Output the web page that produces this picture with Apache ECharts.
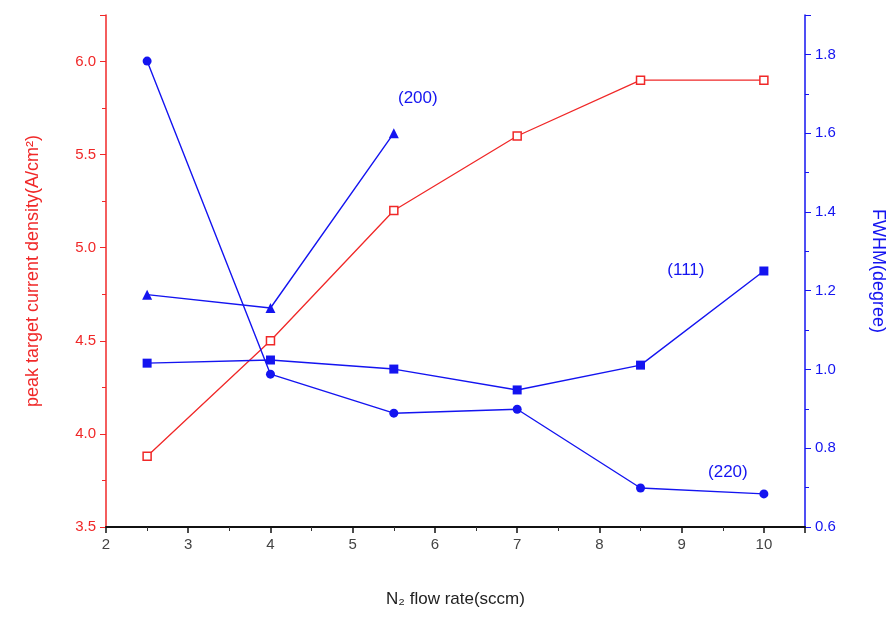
<!DOCTYPE html>
<html>
<head>
<meta charset="utf-8">
<script src="https://cdn.jsdelivr.net/npm/echarts@6/dist/echarts.min.js"></script>
<style>
  html, body { margin: 0; padding: 0; background: #fff; }
  #chart { width: 895px; height: 618px; }
</style>
</head>
<body>
<div id="chart"></div>
<script>
// N2 flow rate (sccm)
const flowRate = [2.5, 4, 5.5, 7, 8.5, 10];
// Peak target current density (A/cm2), left axis
const currentDensity = [3.88, 4.50, 5.20, 5.60, 5.90, 5.90];
// FWHM (degree) of the (111) peak, right axis
const fwhm111 = [1.016, 1.024, 1.001, 0.948, 1.011, 1.25];
// FWHM (degree) of the (200) peak, right axis
const fwhm200Rate = [2.5, 4, 5.5];
const fwhm200 = [1.19, 1.156, 1.60];
// FWHM (degree) of the (220) peak, right axis
const fwhm220 = [1.783, 0.988, 0.889, 0.899, 0.699, 0.684];

const RED = '#f02828';
const BLUE = '#1414f0';
const FONT = 'Liberation Sans, Arial, sans-serif';

function pairs(xs, ys) { return xs.map((x, i) => [x, ys[i]]); }

function labelled(points, idx, text, offset) {
  return points.map((p, i) => i === idx ? {
    value: p,
    label: {
      show: true, formatter: text, position: 'inside', offset: offset,
      color: BLUE, fontSize: 17, fontFamily: FONT
    }
  } : p);
}

const chart = echarts.init(document.getElementById('chart'), null, { renderer: 'canvas' });

chart.setOption({
  animation: false,
  backgroundColor: '#fff',
  grid: { left: 106, right: 90, top: 15, bottom: 91 },
  xAxis: {
    type: 'value', min: 2, max: 10.5, interval: 1,
    name: 'N₂ flow rate(sccm)', nameLocation: 'middle', nameGap: 64,
    nameTextStyle: { color: '#222', fontSize: 17, fontFamily: FONT },
    axisLine: { lineStyle: { color: '#111', width: 2 } },
    axisTick: { length: 6, lineStyle: { color: '#111', width: 1.5 } },
    minorTick: { show: true, splitNumber: 2, length: 4, lineStyle: { color: '#333' } },
    axisLabel: { color: '#444', fontSize: 15, fontFamily: FONT, margin: 10, showMaxLabel: false },
    splitLine: { show: false }
  },
  yAxis: [{
    type: 'value', position: 'left', min: 3.5, max: 6.25, interval: 0.5,
    name: 'peak target current density(A/cm²)', nameLocation: 'middle', nameGap: 64, nameRotate: 90,
    nameTextStyle: { color: RED, fontSize: 18, fontFamily: FONT },
    axisLine: { show: true, lineStyle: { color: RED, width: 1.5 } },
    axisTick: { show: true, length: 6, lineStyle: { color: RED } },
    minorTick: { show: true, splitNumber: 2, length: 4, lineStyle: { color: RED } },
    axisLabel: { color: RED, fontSize: 15, fontFamily: FONT, margin: 10, showMaxLabel: false,
      formatter: v => v.toFixed(1) },
    splitLine: { show: false }
  }, {
    type: 'value', position: 'right', min: 0.6, max: 1.9, interval: 0.2,
    name: 'FWHM(degree)', nameLocation: 'middle', nameGap: 64, nameRotate: -90,
    nameTextStyle: { color: BLUE, fontSize: 18, fontFamily: FONT },
    axisLine: { show: true, lineStyle: { color: BLUE, width: 1.5 } },
    axisTick: { show: true, length: 6, lineStyle: { color: BLUE } },
    minorTick: { show: true, splitNumber: 2, length: 4, lineStyle: { color: BLUE } },
    axisLabel: { color: BLUE, fontSize: 15, fontFamily: FONT, margin: 10, showMaxLabel: false,
      formatter: v => v.toFixed(1) },
    splitLine: { show: false }
  }],
  series: [{
    name: 'current density', type: 'line', yAxisIndex: 0,
    data: pairs(flowRate, currentDensity),
    symbol: 'rect', symbolSize: 8,
    itemStyle: { color: '#fff', borderColor: RED, borderWidth: 1.5 },
    lineStyle: { color: RED, width: 1.3 }
  }, {
    name: '(111)', type: 'line', yAxisIndex: 1,
    data: labelled(pairs(flowRate, fwhm111), 5, '(111)', [-78, -1]),
    symbol: 'rect', symbolSize: 9,
    itemStyle: { color: BLUE },
    lineStyle: { color: BLUE, width: 1.4 }
  }, {
    name: '(200)', type: 'line', yAxisIndex: 1,
    data: labelled(pairs(fwhm200Rate, fwhm200), 2, '(200)', [24, -35]),
    symbol: 'triangle', symbolSize: 10,
    itemStyle: { color: BLUE },
    lineStyle: { color: BLUE, width: 1.4 }
  }, {
    name: '(220)', type: 'line', yAxisIndex: 1,
    data: labelled(pairs(flowRate, fwhm220), 5, '(220)', [-36, -22]),
    symbol: 'circle', symbolSize: 9,
    itemStyle: { color: BLUE },
    lineStyle: { color: BLUE, width: 1.4 }
  }]
});
</script>
</body>
</html>
